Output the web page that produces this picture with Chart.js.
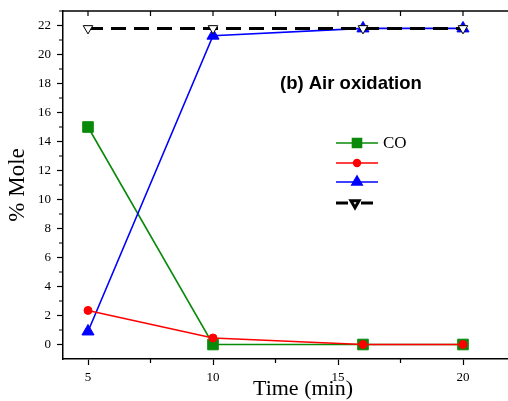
<!DOCTYPE html>
<html>
<head>
<meta charset="utf-8">
<script src="https://cdn.jsdelivr.net/npm/chart.js@4/dist/chart.umd.min.js"></script>
<style>
  html, body { margin: 0; padding: 0; background: #fff; overflow: hidden; }
  #wrap { position: absolute; left: 0; top: 0; width: 508px; height: 401px; }
</style>
</head>
<body>
<div id="wrap"><canvas id="chart"></canvas></div>
<script>
const timeMin = [5, 10, 16, 20];
const coValues = [15, 0, 0, 0];
const redValues = [2.35, 0.45, 0, 0];
const blueValues = [0.9, 21.3, 21.8, 21.8];
const blackValues = [21.8, 21.8, 21.8, 21.8];
const seriesLabels = ['CO', '', '', ''];
const xTickValues = [5, 10, 15, 20];
const xMinorValues = [7.5, 12.5, 17.5];
const yTickValues = [0, 2, 4, 6, 8, 10, 12, 14, 16, 18, 20, 22];
const yMinorValues = [1, 3, 5, 7, 9, 11, 13, 15, 17, 19, 21, 23];

const toPoints = (vals) => vals.map((v, i) => ({ x: timeMin[i], y: v }));

const serif = '"Liberation Serif", "Times New Roman", serif';

// minor ticks, top border with inward ticks, titles and legend
const decorations = {
    id: 'decorations',
    afterDraw(chart) {
        const ctx = chart.ctx;
        const xs = chart.scales.x;
        const ys = chart.scales.y;
        const area = chart.chartArea;
        ctx.save();
        ctx.strokeStyle = '#000';
        ctx.lineWidth = 1.2;
        ctx.beginPath();
        yMinorValues.forEach(v => {
            const py = ys.getPixelForValue(v);
            ctx.moveTo(area.left - 4, py);
            ctx.lineTo(area.left, py);
        });
        xMinorValues.forEach(v => {
            const px = xs.getPixelForValue(v);
            ctx.moveTo(px, area.bottom);
            ctx.lineTo(px, area.bottom + 4);
        });
        // top border + inward ticks
        xTickValues.concat(xMinorValues).forEach(v => {
            const px = xs.getPixelForValue(v);
            ctx.moveTo(px, area.top);
            ctx.lineTo(px, area.top + 5);
        });
        ctx.stroke();
        ctx.lineWidth = 1.5;
        ctx.beginPath();
        ctx.moveTo(area.left, area.top);
        ctx.lineTo(area.right, area.top);
        ctx.stroke();

        // panel title
        ctx.fillStyle = '#000';
        ctx.font = 'bold 18.5px "Liberation Sans", Arial, sans-serif';
        ctx.textBaseline = 'middle';
        ctx.textAlign = 'left';
        ctx.fillText('(b) Air oxidation', 280, 84);

        // x axis title
        ctx.font = '22px ' + serif;
        ctx.textAlign = 'center';
        ctx.textBaseline = 'middle';
        ctx.fillText('Time (min)', 303, 389);

        // legend
        const rows = [143, 163, 182, 203];
        chart.data.datasets.forEach((ds, i) => {
            const y = rows[i];
            ctx.strokeStyle = ds.borderColor;
            ctx.lineWidth = ds.borderWidth;
            ctx.beginPath();
            if (ds.borderDash) {
                ctx.moveTo(336, y); ctx.lineTo(348, y);
                ctx.moveTo(361, y); ctx.lineTo(373, y);
            } else {
                ctx.moveTo(336, y); ctx.lineTo(378, y);
            }
            ctx.stroke();
            const px = ds.borderDash ? 355 : 357;
            ctx.fillStyle = ds.pointBackgroundColor;
            ctx.strokeStyle = ds.pointBorderColor;
            Chart.helpers.drawPoint(ctx, {
                pointStyle: ds.pointStyle,
                radius: ds.pointRadius * 0.85,
                rotation: ds.pointRotation || 0,
                borderWidth: ds.pointBorderWidth
            }, px, y);
            if (ds.label) {
                ctx.fillStyle = '#000';
                ctx.font = '17px ' + serif;
                ctx.textAlign = 'left';
                ctx.textBaseline = 'middle';
                ctx.fillText(ds.label, 383, y + 1);
            }
        });
        ctx.restore();
    }
};

new Chart(document.getElementById('chart'), {
    type: 'line',
    data: {
        datasets: [
            {
                label: seriesLabels[0],
                data: toPoints(coValues),
                borderColor: '#0a8a0a',
                borderWidth: 1.6,
                pointStyle: 'rect',
                pointRadius: 7.5,
                pointBackgroundColor: '#0a8a0a',
                pointBorderColor: '#0a8a0a',
                pointBorderWidth: 1,
                order: 3
            },
            {
                label: seriesLabels[1],
                data: toPoints(redValues),
                borderColor: '#ff0000',
                borderWidth: 1.6,
                pointStyle: 'circle',
                pointRadius: 4,
                pointBackgroundColor: '#ff0000',
                pointBorderColor: '#ff0000',
                pointBorderWidth: 1,
                order: 1
            },
            {
                label: seriesLabels[2],
                data: toPoints(blueValues),
                borderColor: '#0000ff',
                borderWidth: 1.6,
                pointStyle: 'triangle',
                pointRadius: 7,
                pointBackgroundColor: '#0000ff',
                pointBorderColor: '#0000ff',
                pointBorderWidth: 1,
                order: 2
            },
            {
                label: seriesLabels[3],
                data: toPoints(blackValues),
                borderColor: '#000',
                borderWidth: 3,
                borderDash: [15, 8],
                pointStyle: 'triangle',
                pointRotation: 180,
                pointRadius: 5.5,
                pointBackgroundColor: '#fff',
                pointBorderColor: '#000',
                pointBorderWidth: 1,
                order: 0
            }
        ]
    },
    options: {
        responsive: true,
        maintainAspectRatio: false,
        animation: false,
        layout: { autoPadding: false, padding: { top: 11, right: 0, bottom: 0, left: 0 } },
        plugins: {
            legend: { display: false },
            tooltip: { enabled: false }
        },
        scales: {
            x: {
                type: 'linear',
                min: 4,
                max: 21.8,
                afterBuildTicks: (s) => { s.ticks = xTickValues.map(v => ({ value: v })); },
                afterFit: (s) => { s.height = 42; s.paddingLeft = 0; s.paddingRight = 0; },
                grid: { drawOnChartArea: false, tickLength: 6, tickColor: '#000', tickWidth: 1.2 },
                border: { color: '#000', width: 1.5 },
                ticks: { color: '#000', padding: 5, maxRotation: 0, font: { family: serif, size: 13 } },
                title: { display: false }
            },
            y: {
                min: -1,
                max: 23,
                afterBuildTicks: (s) => { s.ticks = yTickValues.map(v => ({ value: v })); },
                afterFit: (s) => { s.width = 63; s.paddingTop = 0; s.paddingBottom = 0; },
                grid: { drawOnChartArea: false, tickLength: 6, tickColor: '#000', tickWidth: 1.2 },
                border: { color: '#000', width: 1.5 },
                ticks: { color: '#000', padding: 6, font: { family: serif, size: 13 } },
                title: {
                    display: true,
                    text: '% Mole',
                    color: '#000',
                    padding: { top: 4 },
                    font: { family: serif, size: 23, lineHeight: 1.2 }
                }
            }
        }
    },
    plugins: [decorations]
});
</script>
</body>
</html>
